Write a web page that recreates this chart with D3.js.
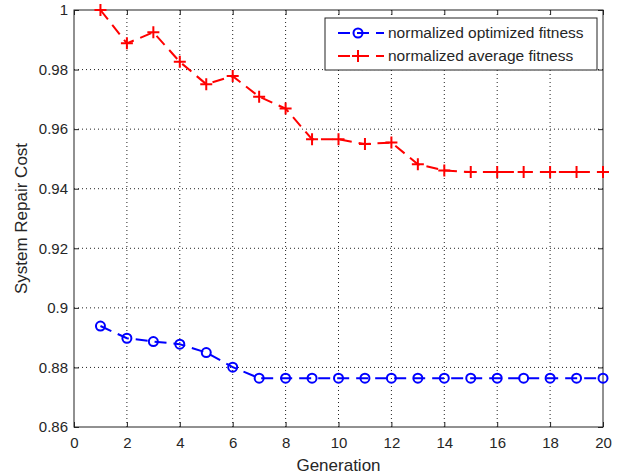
<!DOCTYPE html>
<html><head><meta charset="utf-8">
<script src="https://cdn.jsdelivr.net/npm/d3@7"></script>
<style>body{margin:0;background:#fff}svg{display:block}text{font-family:"Liberation Sans",Arial,sans-serif;fill:#262626}</style>
</head><body><svg id="c" width="632" height="474"></svg>
<script>
const generations = [1,2,3,4,5,6,7,8,9,10,11,12,13,14,15,16,17,18,19,20];
const optimizedFitness = [0.8939,0.8898,0.8887,0.8878,0.8850,0.8801,0.8764,0.8764,0.8764,0.8764,0.8764,0.8764,0.8764,0.8764,0.8764,0.8764,0.8764,0.8764,0.8764,0.8764];
const averageFitness = [1.0,0.9888,0.9925,0.9826,0.9751,0.9778,0.9709,0.9669,0.9566,0.9566,0.9550,0.9555,0.9482,0.9461,0.9456,0.9456,0.9456,0.9456,0.9456,0.9456];
const xTicks = [0,2,4,6,8,10,12,14,16,18,20];
const yTicks = [0.86,0.88,0.9,0.92,0.94,0.96,0.98,1];
const seriesNames = ["normalized optimized fitness","normalized average fitness"];

const L=74,T=10,R=603,B=427;
const svg=d3.select("#c");
const x=d3.scaleLinear().domain([0,20]).range([L,R]);
const y=d3.scaleLinear().domain([0.86,1]).range([B,T]);

// grid
const g=svg.append("g");
g.selectAll(".gx").data(xTicks.slice(1,-1)).join("line")
 .attr("x1",d=>x(d)).attr("x2",d=>x(d)).attr("y1",T).attr("y2",B)
 .attr("stroke","#222").attr("stroke-width",1).attr("stroke-dasharray","1,3");
g.selectAll(".gy").data(yTicks.slice(1,-1)).join("line")
 .attr("y1",d=>y(d)).attr("y2",d=>y(d)).attr("x1",L).attr("x2",R)
 .attr("stroke","#222").attr("stroke-width",1).attr("stroke-dasharray","1,3");

// axes
const ax=d3.axisBottom(x).tickValues(xTicks).tickSize(-5).tickPadding(10).tickFormat(d3.format("d"));
const ay=d3.axisLeft(y).tickValues(yTicks).tickSize(-5).tickPadding(6).tickFormat(d=>String(+d.toFixed(2)));
const axT=d3.axisTop(x).tickValues(xTicks).tickSize(-5).tickFormat("");
const ayR=d3.axisRight(y).tickValues(yTicks).tickSize(-5).tickFormat("");
function style(s){s.select(".domain").remove();s.selectAll("line").attr("stroke","#222");s.selectAll("text").style("font-size","15px").attr("fill","#262626");}
svg.append("g").attr("transform",`translate(0,${B})`).call(ax).call(style);
svg.append("g").attr("transform",`translate(${L},0)`).call(ay).call(style);
svg.append("g").attr("transform",`translate(0,${T})`).call(axT).call(style);
svg.append("g").attr("transform",`translate(${R},0)`).call(ayR).call(style);
svg.append("rect").attr("x",L).attr("y",T).attr("width",R-L).attr("height",B-T)
 .attr("fill","none").attr("stroke","#222").attr("stroke-width",1);

// lines
const line=d3.line().x((d,i)=>x(generations[i])).y(d=>y(d));
function series(vals,color,marker){
  svg.append("path").datum(vals).attr("d",line).attr("fill","none")
   .attr("stroke",color).attr("stroke-width",2).attr("stroke-dasharray","12,7");
  const m=svg.append("g");
  vals.forEach((v,i)=>drawMarker(m,x(generations[i]),y(v),color,marker));
}
function drawMarker(m,cx,cy,color,marker){
  if(marker==="o"){
    m.append("circle").attr("cx",cx).attr("cy",cy).attr("r",4.5).attr("fill","none").attr("stroke",color).attr("stroke-width",2);
  } else {
    m.append("path").attr("d",`M${cx-6},${cy}H${cx+6}M${cx},${cy-6}V${cy+6}`).attr("stroke",color).attr("stroke-width",2);
  }
}
series(optimizedFitness,"#0000ff","o");
series(averageFitness,"#ff0000","+");

// legend
const lg=svg.append("g");
lg.append("rect").attr("x",325).attr("y",18).attr("width",272).attr("height",52).attr("fill","#fff").attr("stroke","#222");
[["#0000ff","o"],["#ff0000","+"]].forEach((c,i)=>{
  const yy=33+i*23;
  lg.append("line").attr("x1",338).attr("x2",384).attr("y1",yy).attr("y2",yy).attr("stroke",c[0]).attr("stroke-width",2).attr("stroke-dasharray","12,7");
  drawMarker(lg,358,yy,c[0],c[1]);
  lg.append("text").attr("x",388).attr("y",yy).attr("dy","0.35em").style("font-size","15.5px").text(seriesNames[i]);
});

// labels
svg.append("text").attr("x",(L+R)/2).attr("y",471).attr("text-anchor","middle").style("font-size","17px").text("Generation");
svg.append("text").attr("transform",`translate(27,${(T+B)/2}) rotate(-90)`).attr("text-anchor","middle").style("font-size","17px").text("System Repair Cost");
</script></body></html>
